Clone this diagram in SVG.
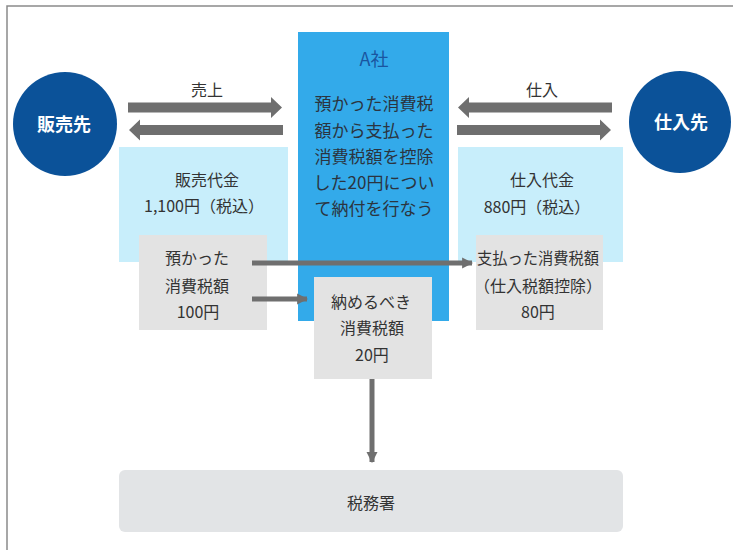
<svg xmlns="http://www.w3.org/2000/svg" width="733" height="550" viewBox="0 0 733 550">
<defs>
<style>
.t{font-family:"Noto Sans CJK JP","Noto Sans",sans-serif;font-size:16px;fill:#333;text-anchor:middle}
.c{font-size:17px;fill:#2b3440}
.w{font-family:"Noto Sans CJK JP","Noto Sans",sans-serif;font-size:18px;font-weight:bold;fill:#fff;text-anchor:middle}
.lb{fill:#c8eefb}
.gb{fill:#e3e3e3}
.ba{fill:#6f6f6f}
.ln{stroke:#6f6f6f;stroke-width:5;fill:none}
</style>
<marker id="ah" viewBox="0 0 10 10" refX="9" refY="5" markerWidth="2.2" markerHeight="2.4" orient="auto" markerUnits="strokeWidth">
<path d="M0,0 L10,5 L0,10 z" fill="#6f6f6f"/>
</marker>
</defs>
<rect width="733" height="550" fill="#fff"/>
<path d="M7,550 V6 H733" fill="none" stroke="#8a8a8a" stroke-width="1.5"/>

<g id="sales-amount">
<rect class="lb" x="119" y="147" width="169" height="115"/>
<text class="t" x="207" y="186">販売代金</text>
<text class="t" x="204" y="212">1,100円（税込）</text>
</g>
<g id="purchase-amount">
<rect class="lb" x="458" y="147" width="165" height="115"/>
<text class="t" x="542" y="186">仕入代金</text>
<text class="t" x="537" y="213">880円（税込）</text>
</g>
<g id="company-a">
<rect x="298" y="32" width="151" height="289" fill="#33aaea"/>
<text class="t" x="374" y="66" style="fill:#1a55a0;font-size:18px">A社</text>
<text class="t c" x="374" y="110">預かった消費税</text>
<text class="t c" x="374" y="137">額から支払った</text>
<text class="t c" x="374" y="163">消費税額を控除</text>
<text class="t c" x="374" y="189">した20円につい</text>
<text class="t c" x="374" y="215">て納付を行なう</text>
</g>
<g id="received-tax">
<rect class="gb" x="139" y="235" width="128" height="95"/>
<text class="t" x="197" y="264">預かった</text>
<text class="t" x="197" y="292">消費税額</text>
<text class="t" x="198" y="318">100円</text>
</g>
<g id="paid-tax">
<rect class="gb" x="476" y="235" width="127" height="95"/>
<text class="t" x="538" y="264" textLength="122" lengthAdjust="spacingAndGlyphs">支払った消費税額</text>
<text class="t" x="538" y="292">（仕入税額控除）</text>
<text class="t" x="538" y="318">80円</text>
</g>
<g id="payable-tax">
<rect class="gb" x="314" y="277" width="118" height="102"/>
<text class="t" x="371" y="308">納めるべき</text>
<text class="t" x="372" y="334">消費税額</text>
<text class="t" x="372" y="361">20円</text>
</g>
<g id="tax-office">
<rect x="119" y="470" width="504" height="62" rx="6" fill="#e2e4e6"/>
<text class="t" x="371" y="509">税務署</text>
</g>
<g id="customer">
<circle cx="65" cy="124" r="52" fill="#0b5299"/>
<text class="w" x="64" y="131">販売先</text>
</g>
<g id="supplier">
<circle cx="680" cy="122" r="51" fill="#0b5299"/>
<text class="w" x="681" y="129">仕入先</text>
</g>

<g id="connectors">
<polygon class="ba" points="128,102.5 271,102.5 271,97 282,107.5 271,118 271,112.5 128,112.5"/>
<polygon class="ba" points="283,125 140,125 140,119.5 129,130 140,140.5 140,135 283,135"/>
<polygon class="ba" points="612,102.5 469,102.5 469,97 458,107.5 469,118 469,112.5 612,112.5"/>
<polygon class="ba" points="457,125 600,125 600,119.5 611,130 600,140.5 600,135 457,135"/>
<line class="ln" x1="252" y1="263" x2="472" y2="263" marker-end="url(#ah)"/>
<line class="ln" x1="252" y1="299" x2="307" y2="299" marker-end="url(#ah)"/>
<line class="ln" x1="372" y1="379" x2="372" y2="462" marker-end="url(#ah)"/>
<text class="t" x="207" y="96">売上</text>
<text class="t" x="542" y="96">仕入</text>
</g>
</svg>
